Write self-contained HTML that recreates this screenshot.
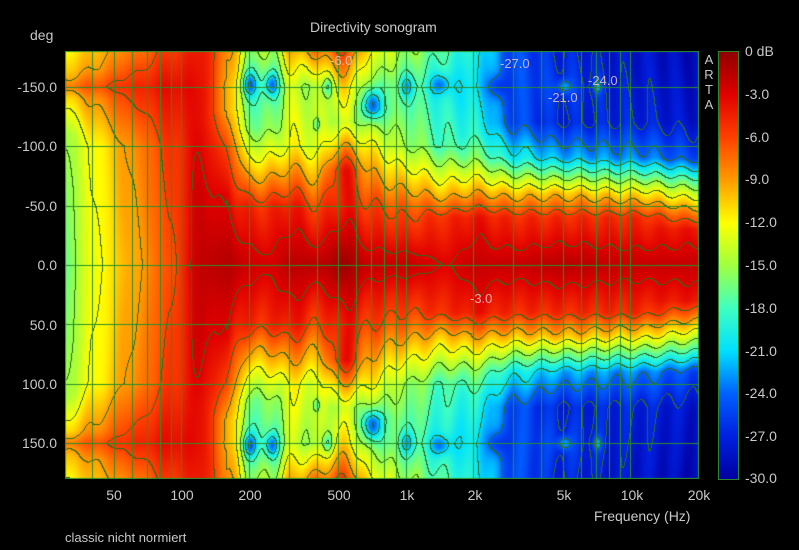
<!DOCTYPE html>
<html><head><meta charset="utf-8">
<style>
body{margin:0;background:#000;width:799px;height:550px;overflow:hidden;position:relative;font-family:"Liberation Sans",sans-serif;color:#c8c8c8}
.t{position:absolute;font-size:14px;white-space:nowrap;line-height:1}
.yl{position:absolute;right:742px;font-size:14px;line-height:1}
.xl{position:absolute;top:488px;font-size:14px;transform:translateX(-50%);line-height:1}
.cl{position:absolute;left:745px;font-size:14px;line-height:1}
.lab{position:absolute;font-size:13px;color:#e8c8c8;line-height:1;opacity:.85}
#cb{position:absolute;left:718px;top:51px;width:19px;height:427px;border:1px solid #2a8a2a;
background:linear-gradient(to bottom,#900000 0%,#e00000 10%,#ff4000 20%,#ff9a00 30%,#ffff00 40%,#a0ff40 50%,#40ffc0 60%,#00e0ff 70%,#0060ff 80%,#0020e0 90%,#0000a0 100%)}
</style></head><body>
<div class="t" style="left:310px;top:20px">Directivity sonogram</div>
<div class="t" style="left:30px;top:28px">deg</div>
<canvas id="c" width="634" height="428" style="position:absolute;left:65px;top:51px"></canvas>
<div class="yl" style="top:80px">-150.0</div>
<div class="yl" style="top:139px">-100.0</div>
<div class="yl" style="top:199px">-50.0</div>
<div class="yl" style="top:258px">0.0</div>
<div class="yl" style="top:318px">50.0</div>
<div class="yl" style="top:377px">100.0</div>
<div class="yl" style="top:436px">150.0</div>
<div class="xl" style="left:114px">50</div>
<div class="xl" style="left:182px">100</div>
<div class="xl" style="left:250px">200</div>
<div class="xl" style="left:339px">500</div>
<div class="xl" style="left:407px">1k</div>
<div class="xl" style="left:475px">2k</div>
<div class="xl" style="left:564px">5k</div>
<div class="xl" style="left:632px">10k</div>
<div class="xl" style="left:699px">20k</div>
<div class="t" style="left:594px;top:509px">Frequency (Hz)</div>
<div class="t" style="left:65px;top:531px;font-size:13px">classic nicht normiert</div>
<div class="t" style="left:704px;top:52px;font-size:13px;line-height:15px;width:10px;text-align:center">A<br>R<br>T<br>A</div>
<div id="cb"></div>
<div class="cl" style="top:44px">0 dB</div>
<div class="cl" style="top:87px">-3.0</div>
<div class="cl" style="top:130px">-6.0</div>
<div class="cl" style="top:172px">-9.0</div>
<div class="cl" style="top:215px">-12.0</div>
<div class="cl" style="top:258px">-15.0</div>
<div class="cl" style="top:301px">-18.0</div>
<div class="cl" style="top:344px">-21.0</div>
<div class="cl" style="top:386px">-24.0</div>
<div class="cl" style="top:429px">-27.0</div>
<div class="cl" style="top:471px">-30.0</div>
<div class="lab" style="left:330px;top:54px">-6.0</div>
<div class="lab" style="left:500px;top:57px">-27.0</div>
<div class="lab" style="left:588px;top:74px">-24.0</div>
<div class="lab" style="left:548px;top:91px">-21.0</div>
<div class="lab" style="left:470px;top:292px">-3.0</div>
<script>
var P=[
[1.477,[[0,-16.5],[60,-16],[110,-15],[140,-11],[150,-8],[160,-10],[180,-12]]],
[1.60,[[0,-12.5],[100,-12],[140,-8.5],[150,-6.5],[165,-9],[180,-10]]],
[1.78,[[0,-9.5],[100,-8.5],[150,-5],[180,-8]]],
[1.95,[[0,-6.5],[100,-5.5],[150,-3.5],[180,-5.5]]],
[2.08,[[0,-2],[60,-2.5],[120,-3.5],[150,-3.5],[180,-4]]],
[2.2,[[0,-2.5],[60,-3.5],[100,-6],[130,-9],[150,-9],[180,-8]]],
[2.3,[[0,-2.5],[50,-5],[90,-12],[115,-16],[150,-18],[180,-15]]],
[2.4,[[0,-2.5],[50,-5],[90,-12],[115,-16],[150,-18],[180,-15]]],
[2.48,[[0,-1.5],[50,-4],[100,-12],[150,-14],[180,-10]]],
[2.6,[[0,-1.5],[50,-6],[100,-13],[150,-15],[180,-8]]],
[2.72,[[0,-1.5],[50,-4],[80,-4],[100,-9],[120,-14],[150,-11],[180,-6]]],
[2.85,[[0,-2],[50,-6],[100,-12],[130,-17],[150,-16],[180,-12]]],
[3.0,[[0,-2],[50,-7],[100,-15],[150,-18],[180,-15]]],
[3.18,[[0,-3],[40,-5],[60,-10],[100,-18],[150,-20],[180,-18]]],
[3.3,[[0,-2],[40,-4],[60,-9],[90,-16],[110,-19],[150,-21],[180,-20]]],
[3.48,[[0,-2],[40,-5],[60,-10],[90,-20],[120,-25],[150,-25],[180,-25]]],
[3.7,[[0,-1.5],[40,-5],[60,-10],[90,-22],[120,-27],[150,-26],[180,-27]]],
[4.0,[[0,-2],[40,-5],[60,-11],[90,-23],[120,-27],[180,-28]]],
[4.301,[[0,-2],[30,-4],[50,-10],[70,-17],[90,-25],[120,-28],[180,-29]]]];
var B=[[2.301,152,-6,.03,10],[2.398,152,-6,.03,10],[2.845,135,-8,.04,12],[2.65,150,-4,.02,8],[3.0,150,-4,.03,10],[3.15,152,-4,.04,8],[3.7,150,4,.03,6],[3.85,150,4,.02,6],[3.4,150,-3,.04,10],[2.6,118,-4,.015,6],[2.2,0,1,.08,40],[2.72,0,1,.06,30]];
function prof(p,a){for(var i=1;i<p.length;i++){if(a<=p[i][0]){var t=(a-p[i-1][0])/(p[i][0]-p[i-1][0]);return p[i-1][1]+t*(p[i][1]-p[i-1][1]);}}return p[p.length-1][1];}
function val(u,a){var i=1;while(i<P.length-1&&u>P[i][0])i++;var p0=P[i-1],p1=P[i];var t=(u-p0[0])/(p1[0]-p0[0]);t=Math.max(0,Math.min(1,t));t=t*t*(3-2*t);
var v=prof(p0[1],a)*(1-t)+prof(p1[1],a)*t;
for(var k=0;k<B.length;k++){var b=B[k];v+=b[2]*Math.exp(-Math.pow((u-b[0])/b[3],2)-Math.pow((a-b[1])/b[4],2));}
v+=0.8*Math.sin(u*55+a*0.02)*Math.min(1,a/60)*(u>2.2?1:0.3);
return Math.max(-30,Math.min(0,v));}
var S=[[0,144,0,0],[-3,224,0,0],[-6,255,64,0],[-9,255,154,0],[-12,255,255,0],[-15,160,255,64],[-18,64,255,192],[-21,0,224,255],[-24,0,96,255],[-27,0,32,224],[-30,0,0,160]];
function col(v){var i=Math.min(9,Math.floor(-v/3));var a=S[i],b=S[i+1];var t=(a[0]-v)/3;return[a[1]+(b[1]-a[1])*t,a[2]+(b[2]-a[2])*t,a[3]+(b[3]-a[3])*t];}
var W=634,H=428,cv=document.getElementById('c'),ctx=cv.getContext('2d'),img=ctx.createImageData(W,H),d=img.data;
var u0=Math.log10(30),u1=Math.log10(20000);var V=new Float32Array(W*H);
for(var y=0;y<H;y++){var a=Math.abs(-180+(y+.5)*360/H);for(var x=0;x<W;x++){var u=u0+(x+.5)/W*(u1-u0);V[y*W+x]=val(u,a);}}
for(var y=0;y<H;y++)for(var x=0;x<W;x++){var i=y*W+x,v=V[i],c=col(v),L=Math.floor(v/3-1e-6);
var e=false;if(x<W-1&&Math.floor(V[i+1]/3-1e-6)!=L)e=true;if(y<H-1&&Math.floor(V[i+W]/3-1e-6)!=L)e=true;
if(e&&v>-29.5)c=[50,105,30];var o=i*4;d[o]=c[0];d[o+1]=c[1];d[o+2]=c[2];d[o+3]=255;}
ctx.putImageData(img,0,0);
ctx.strokeStyle='#2a8f2a';ctx.lineWidth=1;
var fs=[40,50,60,70,80,90,100,200,300,400,500,600,700,800,900,1000,2000,3000,4000,5000,6000,7000,8000,9000,10000,20000];
fs.forEach(function(f){var x=Math.round((Math.log10(f)-u0)/(u1-u0)*W)-.5;ctx.beginPath();ctx.moveTo(x,0);ctx.lineTo(x,H);ctx.stroke();});
[-150,-100,-50,0,50,100,150].forEach(function(g){var y=Math.round((g+180)/360*H)+.5;ctx.beginPath();ctx.moveTo(0,y);ctx.lineTo(W,y);ctx.stroke();});
ctx.strokeRect(.5,.5,W-1,H-1);
</script>
</body></html>
